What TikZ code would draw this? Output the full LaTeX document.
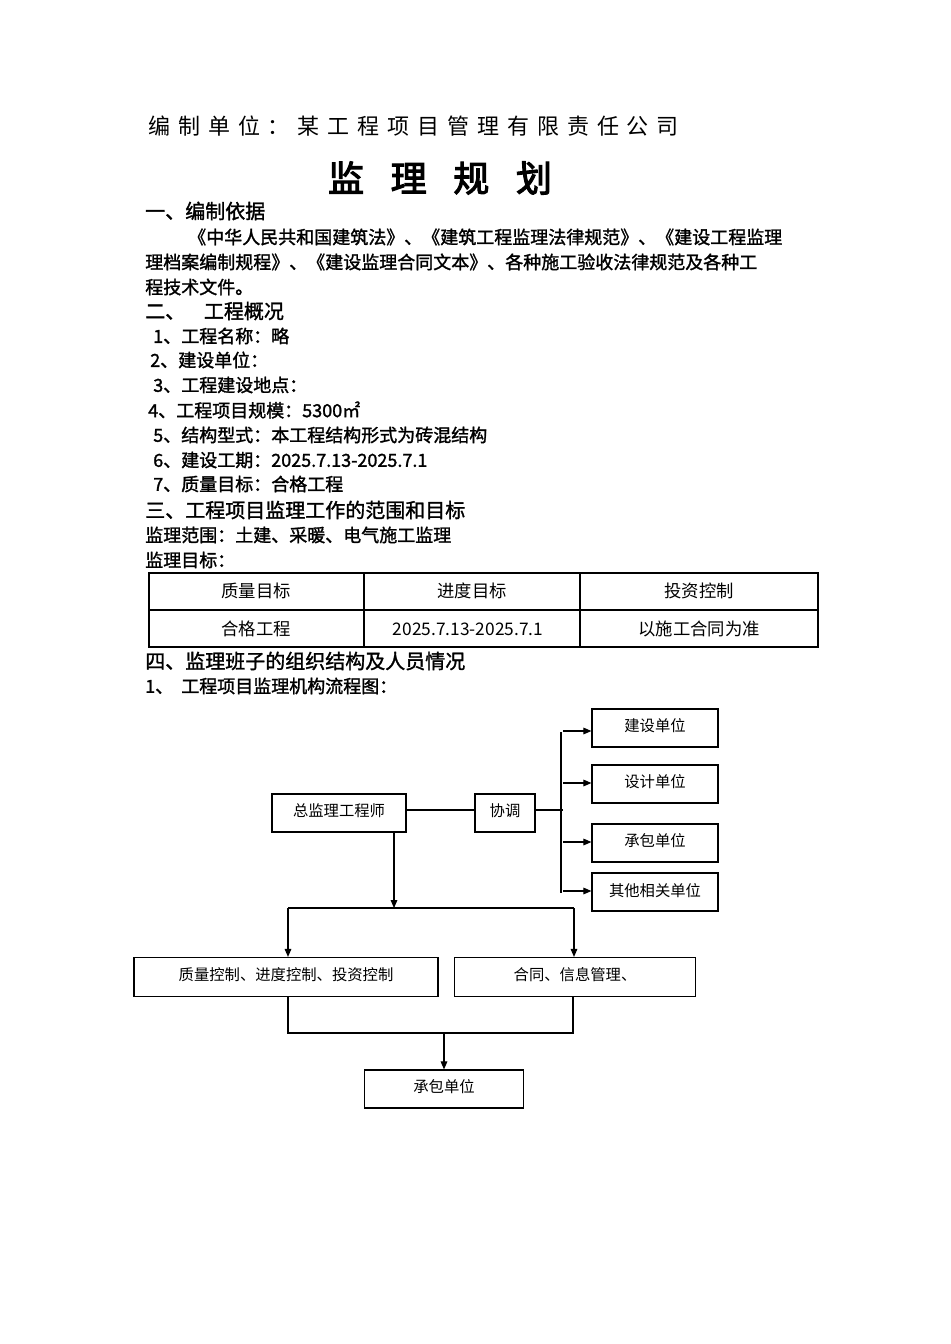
\documentclass[tikz,border=0pt]{standalone}
\usepackage{fontspec}
\setmainfont{Noto Sans CJK SC}
\newfontfamily\hdr[LetterSpace=36]{Noto Sans CJK SC}
\newfontfamily\ttl[FakeBold=3]{Noto Sans CJK SC}
\newfontfamily\bd[FakeBold=1.5]{Noto Sans CJK SC}
\usetikzlibrary{arrows.meta}
\begin{document}
\begin{tikzpicture}[x=0.75pt,y=-0.75pt,
  txt/.style={anchor=west,inner sep=0pt,font=\bd\fontsize{13.5}{14}\selectfont},
  hd/.style={anchor=west,inner sep=0pt,font=\bd\fontsize{15}{16}\selectfont},
  cell/.style={inner sep=0pt,font=\fontsize{13}{14}\selectfont},
  fbox/.style={draw,line width=0.9pt,inner sep=0pt,font=\fontsize{11.5}{12}\selectfont},
  arr/.style={-{Triangle[length=6pt,width=5pt]},line width=0.8pt},
  ln/.style={line width=0.8pt}]
\useasboundingbox (0,0) rectangle (950,1344);
\node[anchor=west,inner sep=0pt,font=\hdr\fontsize{16.5}{17}\selectfont] (h) at (148,126) {编制单位：某工程项目管理有限责任公司};
\node[inner sep=0pt,font=\ttl\fontsize{27}{28}\selectfont] (t) at (440,178) {监\hspace{20pt}理\hspace{20pt}规\hspace{20pt}划};
\node[hd] (s1) at (145,211) {一、编制依据};
\node[txt] (p1) at (188,237) {《中华人民共和国建筑法》、《建筑工程监理法律规范》、《建设工程监理};
\node[txt] (p2) at (145,262) {理档案编制规程》、《建设监理合同文本》、各种施工验收法律规范及各种工};
\node[txt] (p3) at (145,287) {程技术文件。};
\node[hd] (s2) at (145,311) {二、\hspace{14pt}工程概况};
\node[txt] (a1) at (153,336) {1、工程名称：略};
\node[txt] (a2) at (150,360) {2、建设单位：};
\node[txt] (a3) at (153,385) {3、工程建设地点：};
\node[txt] (a4) at (148,410) {4、工程项目规模：5300㎡};
\node[txt] (a5) at (153,435) {5、结构型式：本工程结构形式为砖混结构};
\node[txt] (a6) at (153,460) {6、建设工期：2025.7.13-2025.7.1};
\node[txt] (a7) at (153,484) {7、质量目标：合格工程};
\node[hd] (s3) at (145,510) {三、工程项目监理工作的范围和目标};
\node[txt] (b1) at (145,535) {监理范围：土建、采暖、电气施工监理};
\node[txt] (b2) at (145,560) {监理目标：};
% table
\draw[line width=0.8pt] (149,573) rectangle (818,647);
\draw[line width=0.8pt] (149,610) -- (818,610) (364,573) -- (364,647) (580,573) -- (580,647);
\node[cell] (c1) at (256,591) {质量目标};
\node[cell] (c2) at (472,591) {进度目标};
\node[cell] (c3) at (699,591) {投资控制};
\node[cell] (c4) at (256,629) {合格工程};
\node[cell] (c5) at (468,629) {2025.7.13-2025.7.1};
\node[cell] (c6) at (699,629) {以施工合同为准};
\node[hd] (s4) at (145,661) {四、监理班子的组织结构及人员情况};
\node[txt] (b3) at (145,686) {1、\hspace{6pt}工程项目监理机构流程图：};
% flowchart
\node[fbox,minimum width=134*0.75pt,minimum height=38*0.75pt] (zj) at (339,813) {\raisebox{5pt}{总监理工程师}};
\node[fbox,minimum width=60*0.75pt,minimum height=38*0.75pt] (xt) at (505,813) {\raisebox{5pt}{协调}};
\node[fbox,minimum width=126*0.75pt,minimum height=38*0.75pt] (u1) at (655,728) {\raisebox{5pt}{建设单位}};
\node[fbox,minimum width=126*0.75pt,minimum height=38*0.75pt] (u2) at (655,784) {\raisebox{5pt}{设计单位}};
\node[fbox,minimum width=126*0.75pt,minimum height=38*0.75pt] (u3) at (655,843) {\raisebox{5pt}{承包单位}};
\node[fbox,minimum width=126*0.75pt,minimum height=38*0.75pt] (u4) at (655,892) {\raisebox{3pt}{其他相关单位}};
\node[fbox,minimum width=304*0.75pt,minimum height=39*0.75pt] (q) at (286,977) {\raisebox{5pt}{质量控制、进度控制、投资控制}};
\node[fbox,minimum width=241*0.75pt,minimum height=39*0.75pt] (h2) at (575,977) {\raisebox{5pt}{合同、信息管理、}};
\node[fbox,minimum width=159*0.75pt,minimum height=38*0.75pt] (cb) at (444,1089) {\raisebox{5pt}{承包单位}};
\coordinate (bt) at (561,732);
\coordinate (bb) at (561,893);
\draw[ln] (zj.east |- 0,810) -- (xt.west |- 0,810);
\draw[ln] (xt.east |- 0,810) -- (563,810);
\draw[ln] (bt) -- (bb);
\foreach \u/\y in {u1/731,u2/783,u3/842,u4/891}
  \draw[arr] (563,\y) -- (\u.west |- 0,\y);
\coordinate (sp) at (394,908);
\draw[arr] (394,832) -- (sp);
\draw[ln] (288,908) -- (574,908);
\draw[arr] (288,908) -- (q.north -| 288,0);
\draw[arr] (574,908) -- (h2.north -| 574,0);
\draw[ln] (288,997) -- (288,1033) -- (573,1033) -- (573,997);
\draw[arr] (444,1033) -- (cb.north);
\end{tikzpicture}
\end{document}
